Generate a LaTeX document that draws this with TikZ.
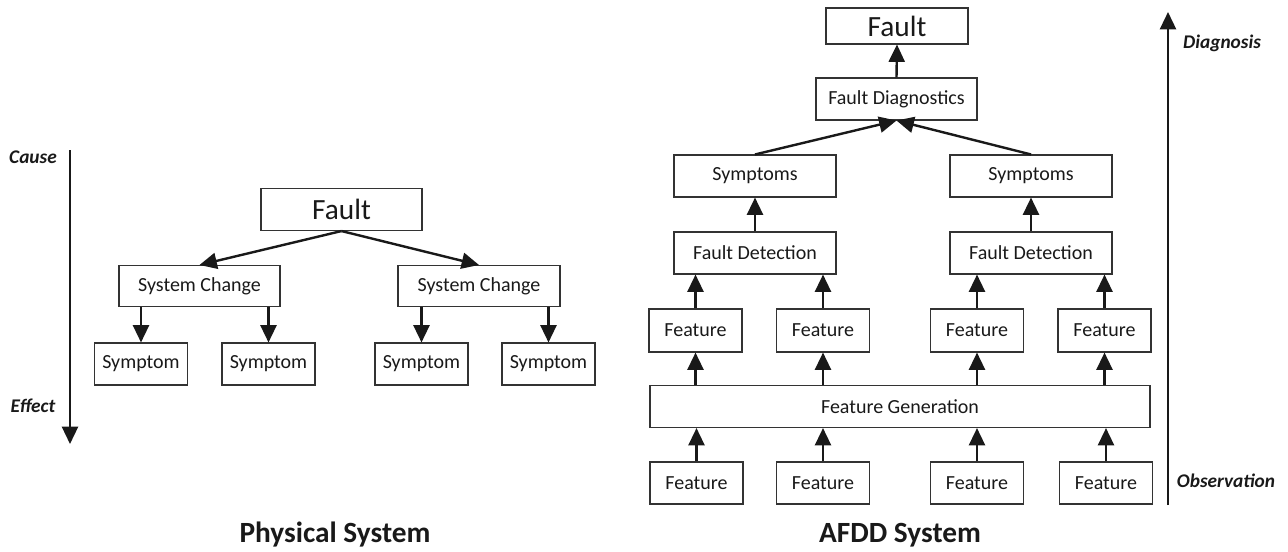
\documentclass[tikz,border=0pt]{standalone}
\usepackage{fontspec}
\setmainfont{Carlito}
\usetikzlibrary{arrows.meta}
\begin{document}
\begin{tikzpicture}[x=0.75pt,y=-0.75pt,
  box/.style={draw=black!80, line width=0.8pt, inner sep=0pt, text=black!90,
    font=\fontsize{15}{18}\selectfont},
  wide/.style={box, minimum width=120.75pt, minimum height=31.5pt},
  small/.style={box, minimum width=69.75pt, minimum height=31.5pt},
  big/.style={font=\fontsize{22}{26}\selectfont},
  side/.style={font=\fontsize{14.5}{17}\selectfont\bfseries\itshape, text=black!90},
  title/.style={font=\fontsize{22}{26}\selectfont\bfseries, text=black!90},
  arr/.style={line width=1.8pt, draw=black!90, -{Triangle[length=13pt,width=12pt]}},
]
\useasboundingbox (0,0) rectangle (1288,551);

% ---------- Physical system (cause -> effect) ----------
\node[box, big, minimum width=120.75pt, minimum height=31.5pt] (LFault) at (341.5,209.5) {Fault};
\node[wide, minimum height=30.75pt] (SC1) at (199.5,286) {System Change};
\node[wide, minimum width=121.5pt, minimum height=30.75pt] (SC2) at (479,286) {System Change};
\node[small] (Sy1) at (141,364) {Symptom};
\node[small] (Sy2) at (268.5,364) {Symptom};
\node[small] (Sy3) at (421.5,364) {Symptom};
\node[small] (Sy4) at (548.5,364) {Symptom};

\draw[arr] (LFault.south) -- (SC1.north);
\draw[arr] (LFault.south) -- (SC2.north);
\foreach \s/\c in {Sy1/SC1, Sy2/SC1, Sy3/SC2, Sy4/SC2}
  \draw[arr] (\s.north |- \c.south) -- (\s.north);

\coordinate (cause) at (70,150);
\coordinate (effect) at (70,444);
\draw[arr] (cause) -- (effect);
\node[side] (lcause) at (33,157) {Cause};
\node[side] (leffect) at (33,406) {Effect};

\node[title] (t1) at (335,535) {Physical System};

% ---------- AFDD system (observation -> diagnosis) ----------
\node[box, big, minimum width=106.5pt, minimum height=27pt] (RFault) at (897,26) {Fault};
\node[wide] (FDiag) at (896.5,99) {Fault Diagnostics};
\node[wide, minimum width=121.5pt] (SymL) at (755,176) {Symptoms};
\node[wide, minimum width=121.5pt] (SymR) at (1031,176) {Symptoms};
\node[wide, minimum width=121.5pt] (FDL) at (755,253) {Fault Detection};
\node[wide, minimum width=121.5pt] (FDR) at (1031,253) {Fault Detection};

\node[small, minimum height=32.25pt] (F1a) at (695.5,330.5) {Feature};
\node[small, minimum height=32.25pt] (F1b) at (823,330.5) {Feature};
\node[small, minimum height=32.25pt] (F1c) at (977,330.5) {Feature};
\node[small, minimum height=32.25pt] (F1d) at (1104.5,330.5) {Feature};

\node[box, minimum width=375pt, minimum height=31.5pt] (FG) at (900,406.5) {Feature Generation};

\node[small] (F2a) at (696.5,483) {Feature};
\node[small] (F2b) at (823,483) {Feature};
\node[small] (F2c) at (977,483) {Feature};
\node[small] (F2d) at (1106,483) {Feature};

\draw[arr] (FDiag.north) -- (RFault.south);
\draw[arr] (SymL.north) -- (FDiag.south);
\draw[arr] (SymR.north) -- (FDiag.south);
\draw[arr] (FDL.north) -- (SymL.south);
\draw[arr] (FDR.north) -- (SymR.south);
\foreach \f/\d in {F1a/FDL, F1b/FDL, F1c/FDR, F1d/FDR}
  \draw[arr] (\f.north) -- (\f.north |- \d.south);
\foreach \f in {F1a, F1b, F1c, F1d}
  \draw[arr] (\f.south |- FG.north) -- (\f.south);
\foreach \f in {F2a, F2b, F2c, F2d}
  \draw[arr] (\f.north) -- (\f.north |- FG.south);

\coordinate (obs) at (1168,505);
\coordinate (diag) at (1168,12);
\draw[arr] (obs) -- (diag);
\node[side] (ldiag) at (1222,43) {Diagnosis};
\node[side] (lobs) at (1226,481) {Observation};

\node[title] (t2) at (900,535) {AFDD System};
\end{tikzpicture}
\end{document}
